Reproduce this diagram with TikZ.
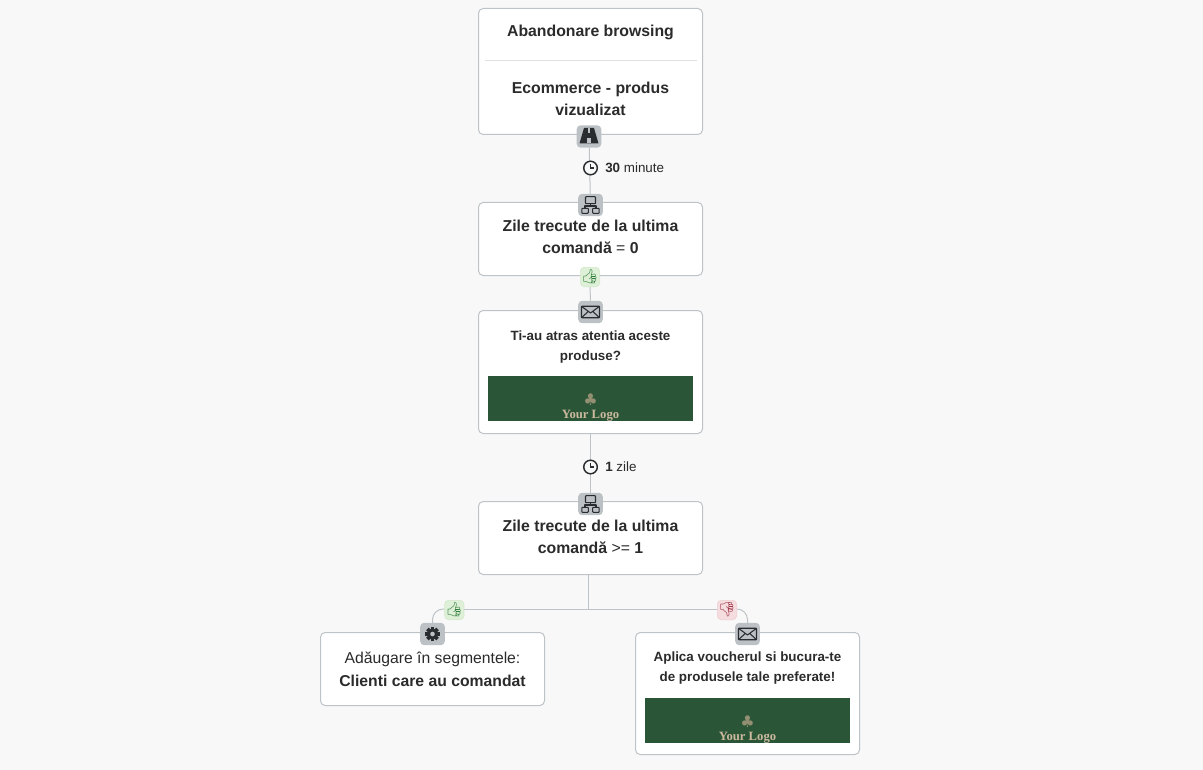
\documentclass[tikz,border=0pt]{standalone}
\usepackage{fontspec}
\setmainfont{Liberation Sans}
\newfontfamily\serifx{Liberation Serif}
\newfontfamily\emojif{Noto Emoji}
\newfontfamily\dejav{DejaVu Sans}
\definecolor{pagebg}{HTML}{F8F8F8}
\definecolor{edgec}{HTML}{BDC3C7}
\definecolor{badgec}{HTML}{BCC1C6}
\definecolor{inkc}{HTML}{2B2B2B}
\definecolor{iconc}{HTML}{2A2D30}
\definecolor{goodf}{HTML}{DFF0D8}
\definecolor{goodd}{HTML}{D3E9C9}
\definecolor{goodi}{HTML}{2F7D3A}
\definecolor{badf}{HTML}{F5DCDF}
\definecolor{badd}{HTML}{EFD0D4}
\definecolor{badi}{HTML}{9E3346}
\definecolor{imgc}{HTML}{2B5537}
\definecolor{logoc}{HTML}{CDBA9E}
\definecolor{logom}{HTML}{938F73}
\usetikzlibrary{calc}
\pgfdeclarelayer{under}
\pgfsetlayers{under,main}
\tikzset{
  cardbox/.style={draw=edgec,fill=white,rounded corners=3.5pt,line width=0.75pt,inner sep=0pt,minimum width=168pt,outer sep=0pt},
  conn/.style={draw=edgec,line width=0.75pt},
  badge/.style={fill=badgec,draw=none,rounded corners=3pt,minimum width=18.5pt,minimum height=16.8pt,inner sep=0pt},
  goodb/.style={fill=goodf,draw=goodd,line width=0.5pt,rounded corners=3pt,minimum width=14.5pt,minimum height=14.5pt,inner sep=0pt,text=goodi,font=\emojif\fontsize{10.5}{11}\selectfont},
  badb/.style={fill=badf,draw=badd,line width=0.5pt,rounded corners=3pt,minimum width=14.5pt,minimum height=14.5pt,inner sep=0pt,text=badi,font=\emojif\fontsize{10.5}{11}\selectfont},
  title/.style={text=inkc,align=center,inner sep=0pt,font=\bfseries\fontsize{11.85}{16.6}\selectfont},
  mailtitle/.style={text=inkc,align=center,inner sep=0pt,font=\bfseries\fontsize{10.05}{15}\selectfont},
  plainline/.style={text=inkc,inner sep=0pt,font=\fontsize{11.8}{16}\selectfont},
  waittext/.style={text=inkc,inner sep=0pt,anchor=west,font=\fontsize{10.05}{12}\selectfont},
  clockb/.style={circle,fill=pagebg,draw=iconc,line width=1.1pt,minimum size=10.2pt,inner sep=0pt},
  imgbox/.style={fill=imgc,draw=none,minimum width=153.75pt,minimum height=33.75pt,inner sep=0pt},
  logotext/.style={text=logoc,inner sep=0pt,font=\serifx\bfseries\fontsize{9.5}{10}\selectfont},
  logomark/.style={text=logom,inner sep=0pt,font=\dejav\bfseries\fontsize{12}{12}\selectfont},
  iconl/.style={draw=iconc,line width=0.8pt,line join=round},
}
\begin{document}
\begin{tikzpicture}[x=0.75pt,y=-0.75pt]
\begin{pgfonlayer}{under}
\fill[pagebg] (0,0) rectangle (1203,770);
\end{pgfonlayer}
\useasboundingbox (0,0) rectangle (1203,770);

% cards
\node[cardbox,minimum height=94.5pt] (cardA) at (590.5,71.5) {};
\node[cardbox,minimum height=54.75pt] (cardB) at (590.5,239) {};
\node[cardbox,minimum height=92.25pt] (cardC) at (590.5,372) {};
\node[cardbox,minimum height=54.75pt] (cardD) at (590.5,538) {};
\node[cardbox,minimum height=54.75pt] (cardE) at (432.5,669) {};
\node[cardbox,minimum height=91.5pt] (cardF) at (747.5,693.5) {};

% card contents
\node[title] (tA1) at (590.5,32) {Abandonare browsing};
\coordinate (divL) at (484.5,60.5);
\coordinate (divR) at (696.5,60.5);
\draw[draw=black!12,line width=0.75pt] (divL) -- (divR);
\node[title] (tA2) at (590.5,99) {Ecommerce - produs\\vizualizat};
\node[title] (tB) at (590.5,237) {Zile trecute de la ultima\\comandă {\mdseries =} 0};
\node[mailtitle] (tC) at (590.5,347.5) {Ti-au atras atentia aceste\\produse?};
\node[imgbox] (imgC) at (590.5,398.5) {};
\node[logomark] (mC) at (590.5,400) {♣};
\node[logotext] (lC) at (590.5,416) {Your Logo};
\node[title] (tD) at (590.5,537) {Zile trecute de la ultima\\comandă {\mdseries >=} 1};
\node[plainline] (tE1) at (432.5,659.5) {Adăugare în segmentele:};
\node[plainline,font=\bfseries\fontsize{11.8}{16}\selectfont] (tE2) at (432.5,681) {Clienti care au comandat};
\node[mailtitle] (tF) at (747.5,668.5) {Aplica voucherul si bucura-te\\de produsele tale preferate!};
\node[imgbox] (imgF) at (747.5,720.5) {};
\node[logomark] (mF) at (747.5,722) {♣};
\node[logotext] (lF) at (747.5,738) {Your Logo};

% badges
\node[badge] (road) at (589,136.5) {};
\node[badge] (net1) at (590.5,205) {};
\node[goodb] (up1) at (590,277) {\char"1F44D};
\node[badge] (env1) at (590.5,312) {};
\node[badge] (net2) at (590.5,504) {};
\node[goodb] (up2) at (454.3,610) {\char"1F44D};
\node[badge] (gear) at (432.5,634) {};
\node[badb] (down) at (727,610) {\char"1F44E};
\node[badge] (env2) at (747.5,634) {};

% split
\coordinate (split) at (588.5,609);

% connectors below everything
\begin{pgfonlayer}{under}
\draw[conn] (road) -- (net1);
\draw[conn] (up1) -- (env1);
\draw[conn] (cardC) -- (net2);
\draw[conn] (cardD.south -| split) -- (split);
\draw[conn] (up2.center |- split) -- (down.center |- split);
\draw[conn,rounded corners=8pt] (up2.center |- split) -| (gear.center);
\draw[conn,rounded corners=8pt] (down.center |- split) -| (env2.center);
\end{pgfonlayer}

% road icon
\begin{scope}[shift={(road.center)}]
\fill[iconc] (-9.5,7) -- (-5,-8.5) -- (5,-8.5) -- (9.5,7) -- cycle;
\fill[badgec] (-0.8,-8) rectangle (0.8,-3);
\fill[badgec] (-1.6,1.5) rectangle (1.6,7);
\end{scope}

% network icons
\foreach \nn in {net1,net2}{
\begin{scope}[shift={(\nn.center)}]
\draw[iconl,rounded corners=0.5pt] (-5,-8.3) rectangle (5,-1.3);
\draw[iconl,rounded corners=0.5pt] (-8.7,3.3) rectangle (-2.2,8.3);
\draw[iconl,rounded corners=0.5pt] (2.2,3.3) rectangle (8.7,8.3);
\draw[iconl] (0,-1.3) -- (0,1) (-5.5,3.3) -- (-5.5,1) -- (5.5,1) -- (5.5,3.3);
\end{scope}}

% envelope icons
\foreach \nn in {env1,env2}{
\begin{scope}[shift={(\nn.center)}]
\draw[iconl,line width=1pt,rounded corners=0.6pt] (-9,-5.7) rectangle (9,5.7);
\draw[iconl] (-9,-5.7) -- (0,1) -- (9,-5.7) (-9,5.7) -- (-2.2,-0.6) (9,5.7) -- (2.2,-0.6);
\end{scope}}

% gear icon
\begin{scope}[shift={(gear.center)}]
\foreach \a in {0,45,...,315}{
  \fill[iconc,rotate=\a] (-1.9,-7.2) rectangle (1.9,0);
}
\fill[iconc] (0,0) circle[radius=5.6];
\fill[badgec] (0,0) circle[radius=2.3];
\end{scope}

% clocks and waits
\node[clockb] (clk1) at (590.5,168) {};
\draw[iconc,line width=0.8pt] ($(clk1.center)+(0,-4)$) -- (clk1.center) -- ($(clk1.center)+(3.5,0)$);
\node[waittext] (w1) at (605,168) {\textbf{30} minute};
\node[clockb] (clk2) at (590.5,467) {};
\draw[iconc,line width=0.8pt] ($(clk2.center)+(0,-4)$) -- (clk2.center) -- ($(clk2.center)+(3.5,0)$);
\node[waittext] (w2) at (605,467) {\textbf{1} zile};
\end{tikzpicture}
\end{document}
